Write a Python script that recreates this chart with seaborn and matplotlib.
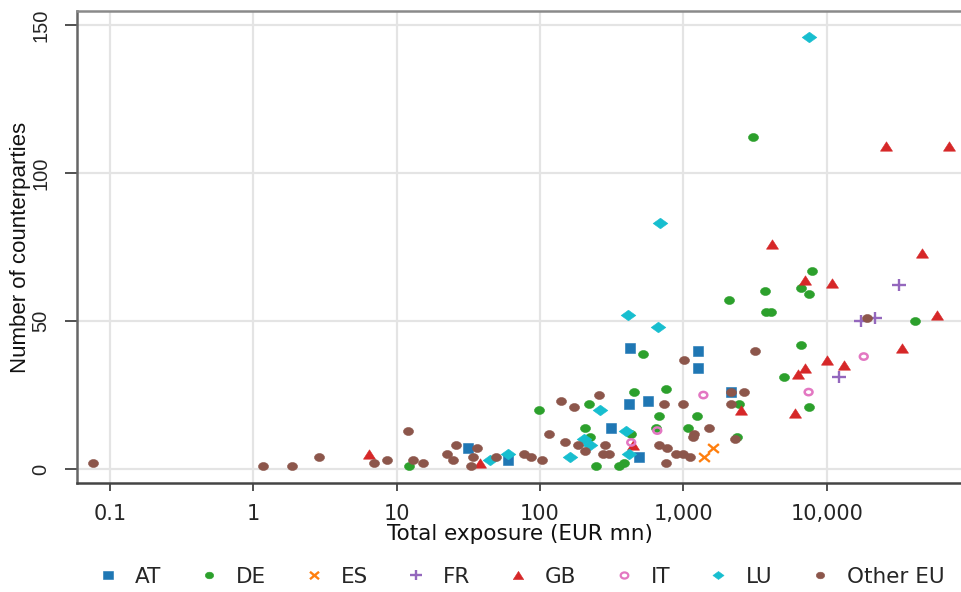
import matplotlib
matplotlib.use("Agg")
import matplotlib.pyplot as plt
import matplotlib.ticker as mticker
from matplotlib.lines import Line2D
from matplotlib.path import Path
from matplotlib.transforms import Affine2D
from matplotlib import font_manager
import seaborn as sns
import pandas as pd

# ---- data (x: total exposure EUR mn, y: number of counterparties) ----
at_x = [426, 1273, 1273, 419, 569, 2167, 314, 492, 31.4, 59.7]
at_y = [41, 40, 34, 22, 23, 26, 14, 4, 7, 3]

de_x = [3087, 2098, 454, 761, 220, 98.4, 679, 1253, 206, 433, 648, 1083, 2387, 224,
        246, 357, 387, 525, 2465, 7483, 7857, 3744, 6579, 7483, 3804, 4058, 41230,
        6579, 5005, 12.1]
de_y = [112, 57, 26, 27, 22, 20, 18, 18, 14, 12, 14, 14, 11, 11,
        1, 1, 2, 39, 22, 21, 67, 60, 61, 59, 53, 53, 50,
        42, 31, 1]

es_x = [1403, 1622]
es_y = [4, 7]

fr_x = [17290, 21670, 31870, 12130]
fr_y = [50, 51, 62, 31]

gb_x = [25860, 71300, 46150, 58780, 33440, 4125, 7017, 10830, 10000, 13150, 7017,
        6270, 5975, 2546, 447, 38.1, 6.37]
gb_y = [109, 109, 73, 52, 41, 76, 64, 63, 37, 35, 34, 32, 19, 20, 8, 2, 5]

it_x = [433, 658, 1380, 7483, 18150]
it_y = [9, 13, 25, 26, 38]

lu_x = [7483, 691, 413, 669, 263, 399, 203, 224, 419, 162, 44.7, 59.7]
lu_y = [146, 83, 52, 48, 20, 13, 10, 8, 5, 4, 3, 5]

oth_x = [0.076, 1.17, 1.87, 2.85, 6.9, 8.5, 12.0, 13.1, 15.2, 22.4, 25.9, 24.6, 36.3,
         34.0, 32.9, 49.2, 77.3, 86.5, 103, 116, 140, 259, 173, 1016, 3139, 736, 1000,
         2167, 2671, 2167, 1520, 150, 184, 285, 679, 773, 206, 276, 304, 894, 1000,
         1119, 761, 1194, 1175, 2310, 19050]
oth_y = [2, 1, 1, 4, 2, 3, 13, 3, 2, 5, 8, 3, 7,
         4, 1, 4, 5, 4, 3, 12, 23, 25, 21, 37, 40, 22, 22,
         26, 26, 22, 14, 9, 8, 8, 8, 7, 6, 5, 5, 5, 5,
         4, 2, 12, 11, 10, 51]

groups = ["AT", "DE", "ES", "FR", "GB", "IT", "LU", "Other EU"]
xs = [at_x, de_x, es_x, fr_x, gb_x, it_x, lu_x, oth_x]
ys = [at_y, de_y, es_y, fr_y, gb_y, it_y, lu_y, oth_y]

xticks = [0.1, 1, 10, 100, 1000, 10000]
xtick_labels = ["0.1", "1", "10", "100", "1,000", "10,000"]
yticks = [0, 50, 100, 150]


# ---- marker shapes (slightly wider than tall, as in the reference) ----
def squash(path, r):
    return Affine2D().scale(1.0, r).transform_path(path)


def closed(verts):
    verts = list(verts) + [verts[0]]
    codes = [Path.MOVETO] + [Path.LINETO] * (len(verts) - 2) + [Path.CLOSEPOLY]
    return Path(verts, codes)


ellipse = squash(Path.unit_circle(), 0.8)
square = closed([(-1, -0.85), (1, -0.85), (1, 0.85), (-1, 0.85)])
diamond = closed([(0, 0.72), (1, 0), (0, -0.72), (-1, 0)])
triangle = closed([(0, 0.78), (-1, -0.78), (1, -0.78)])
cross = Path([(-1, -0.82), (1, 0.82), (-1, 0.82), (1, -0.82)],
             [Path.MOVETO, Path.LINETO, Path.MOVETO, Path.LINETO])
plus = Path([(-1, 0), (1, 0), (0, -0.88), (0, 0.88)],
            [Path.MOVETO, Path.LINETO, Path.MOVETO, Path.LINETO])

colors = {"AT": "#1f77b4", "DE": "#2ca02c", "ES": "#ff7f0e", "FR": "#9467bd",
          "GB": "#d62728", "IT": "#e377c2", "LU": "#17becf", "Other EU": "#8c564b"}
markers = {"AT": square, "DE": ellipse, "ES": cross, "FR": plus, "GB": triangle,
           "IT": ellipse, "LU": diamond, "Other EU": ellipse}
sizes = {"AT": 62, "DE": 52, "ES": 60, "FR": 98, "GB": 75, "IT": 32, "LU": 112,
         "Other EU": 52}
leg_sizes = {"AT": 6.5, "DE": 6.0, "ES": 6.5, "FR": 8.0, "GB": 7.5, "IT": 5.5,
             "LU": 8.0, "Other EU": 6.0}

sns.set_theme(style="white")
plt.rcParams["font.family"] = ["DejaVu Sans"]
names = {f.name for f in font_manager.fontManager.ttflist}
vfont = "Liberation Sans" if "Liberation Sans" in names else "DejaVu Sans"

fig = plt.figure(figsize=(9.61, 5.92), dpi=100)
ax = fig.add_axes([77 / 961, 1 - 483 / 592, 1 - 77 / 961 + 0.002, (483 - 11) / 592])

handles = []
for g, x, y in zip(groups, xs, ys):
    df = pd.DataFrame({"x": x, "y": y})
    c = colors[g]
    m = markers[g]
    if g == "IT":
        sns.scatterplot(data=df, x="x", y="y", ax=ax, marker=m, s=sizes[g],
                        facecolors="none", edgecolor=c, linewidth=1.8, zorder=3)
        h = Line2D([], [], linestyle="none", marker=m, markersize=leg_sizes[g],
                   markerfacecolor="none", markeredgecolor=c, markeredgewidth=1.6)
    elif g in ("ES", "FR"):
        sns.scatterplot(data=df, x="x", y="y", ax=ax, marker=m, s=sizes[g],
                        color=c, edgecolor=c, linewidth=1.7, zorder=3)
        h = Line2D([], [], linestyle="none", marker=m, markersize=leg_sizes[g],
                   color=c, markerfacecolor=c, markeredgecolor=c, markeredgewidth=1.7)
    else:
        sns.scatterplot(data=df, x="x", y="y", ax=ax, marker=m, s=sizes[g],
                        color=c, edgecolor=c, linewidth=0.4, zorder=3)
        h = Line2D([], [], linestyle="none", marker=m, markersize=leg_sizes[g],
                   markerfacecolor=c, markeredgecolor=c, markeredgewidth=0.4)
    handles.append(h)

ax.set_xscale("log")
ax.set_xlim(0.0588, 89300)
ax.set_ylim(-4.7, 154.7)
ax.xaxis.set_major_locator(mticker.FixedLocator(xticks))
ax.xaxis.set_minor_locator(mticker.NullLocator())
ax.set_xticklabels(xtick_labels)
ax.set_yticks(yticks)
ax.set_yticklabels([str(v) for v in yticks], rotation=90, va="center",
                   family=[vfont, "DejaVu Sans"], fontsize=14.5)

ax.grid(True, which="major", color="#e4e4e4", linewidth=1.6)
ax.set_axisbelow(True)
for side in ["left", "top", "bottom"]:
    ax.spines[side].set_visible(True)
    ax.spines[side].set_linewidth(1.8)
ax.spines["left"].set_color("#666666")
ax.spines["bottom"].set_color("#444444")
ax.spines["top"].set_color("#8a8a8a")
ax.spines["right"].set_visible(False)

ax.tick_params(axis="x", which="major", direction="out", length=6, width=1.2,
               color="#333333", labelsize=15, pad=9, bottom=True)
ax.tick_params(axis="y", which="major", direction="out", length=9, width=1.2,
               color="#333333", pad=10, left=True)

ax.set_xlabel("Total exposure (EUR mn)", fontsize=15.5, labelpad=0, color="#111111")
ax.set_ylabel("Number of counterparties", fontsize=16, color="#111111",
              family=[vfont, "DejaVu Sans"])
ax.yaxis.set_label_coords(-0.0515, 0.5)

fig.legend(handles, groups, loc="center", bbox_to_anchor=(0.542, 1 - 577 / 592),
           ncol=8, frameon=False, fontsize=15.5, handletextpad=0.75,
           columnspacing=1.72, handlelength=1.0)

fig.savefig("out.png", dpi=100)
